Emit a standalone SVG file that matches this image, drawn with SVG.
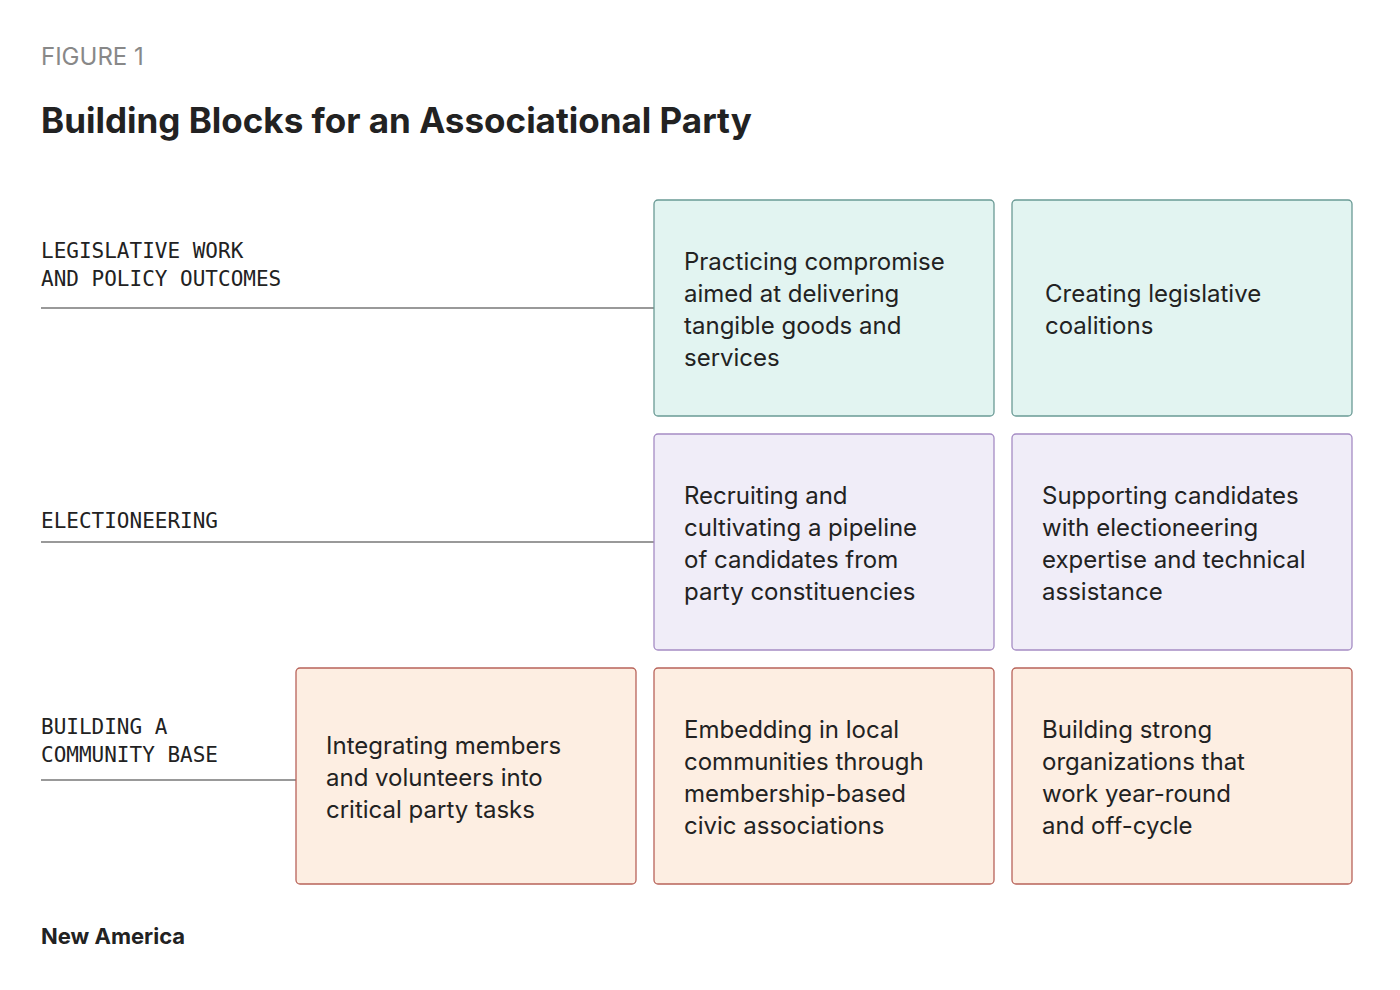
<svg xmlns="http://www.w3.org/2000/svg" width="1400" height="990" viewBox="0 0 1400 990">
<style>
.t{font-family:"Inter","Liberation Sans",sans-serif;font-size:24px;fill:#222}
.m{font-family:"DejaVu Sans Mono","Liberation Mono",monospace;font-size:21px;fill:#222}
.g{fill:#e2f4f1;stroke:#6a9a95;stroke-width:1.3}
.p{fill:#f0edf8;stroke:#a58cc4;stroke-width:1.3}
.o{fill:#fdeee2;stroke:#b8635a;stroke-width:1.3}
.ln{stroke:#777;stroke-width:1.3}
</style>
<rect width="1400" height="990" fill="#fff"/>
<text x="41" y="65" font-family="Inter,'Liberation Sans',sans-serif" font-size="24" fill="#888">FIGURE 1</text>
<text x="41" y="133" font-family="Inter,'Liberation Sans',sans-serif" font-size="35" font-weight="bold" fill="#222">Building Blocks for an Associational Party</text>
<g id="connectors">
<line class="ln" x1="41" y1="308" x2="654" y2="308"/>
<line class="ln" x1="41" y1="542" x2="654" y2="542"/>
<line class="ln" x1="41" y1="780" x2="296" y2="780"/>
</g>
<g id="label-legislative"><text class="m" x="41" y="258">LEGISLATIVE WORK</text><text class="m" x="41" y="286">AND POLICY OUTCOMES</text></g>
<g id="label-election"><text class="m" x="41" y="528">ELECTIONEERING</text></g>
<g id="label-community"><text class="m" x="41" y="734">BUILDING A</text><text class="m" x="41" y="762">COMMUNITY BASE</text></g>
<g id="n1"><rect class="g" x="654" y="200" width="340" height="216" rx="4"/><text class="t" x="684" y="270">Practicing compromise</text><text class="t" x="684" y="302">aimed at delivering</text><text class="t" x="684" y="334">tangible goods and</text><text class="t" x="684" y="366">services</text></g>
<g id="n2"><rect class="g" x="1012" y="200" width="340" height="216" rx="4"/><text class="t" x="1045" y="302">Creating legislative</text><text class="t" x="1045" y="334">coalitions</text></g>
<g id="n3"><rect class="p" x="654" y="434" width="340" height="216" rx="4"/><text class="t" x="684" y="504">Recruiting and</text><text class="t" x="684" y="536">cultivating a pipeline</text><text class="t" x="684" y="568">of candidates from</text><text class="t" x="684" y="600">party constituencies</text></g>
<g id="n4"><rect class="p" x="1012" y="434" width="340" height="216" rx="4"/><text class="t" x="1042" y="504">Supporting candidates</text><text class="t" x="1042" y="536">with electioneering</text><text class="t" x="1042" y="568">expertise and technical</text><text class="t" x="1042" y="600">assistance</text></g>
<g id="n5"><rect class="o" x="296" y="668" width="340" height="216" rx="4"/><text class="t" x="326" y="754">Integrating members</text><text class="t" x="326" y="786">and volunteers into</text><text class="t" x="326" y="818">critical party tasks</text></g>
<g id="n6"><rect class="o" x="654" y="668" width="340" height="216" rx="4"/><text class="t" x="684" y="738">Embedding in local</text><text class="t" x="684" y="770">communities through</text><text class="t" x="684" y="802">membership-based</text><text class="t" x="684" y="834">civic associations</text></g>
<g id="n7"><rect class="o" x="1012" y="668" width="340" height="216" rx="4"/><text class="t" x="1042" y="738">Building strong</text><text class="t" x="1042" y="770">organizations that</text><text class="t" x="1042" y="802">work year-round</text><text class="t" x="1042" y="834">and off-cycle</text></g>
<text x="41" y="944" font-family="Inter,'Liberation Sans',sans-serif" font-size="22" font-weight="bold" fill="#222">New America</text>
</svg>
